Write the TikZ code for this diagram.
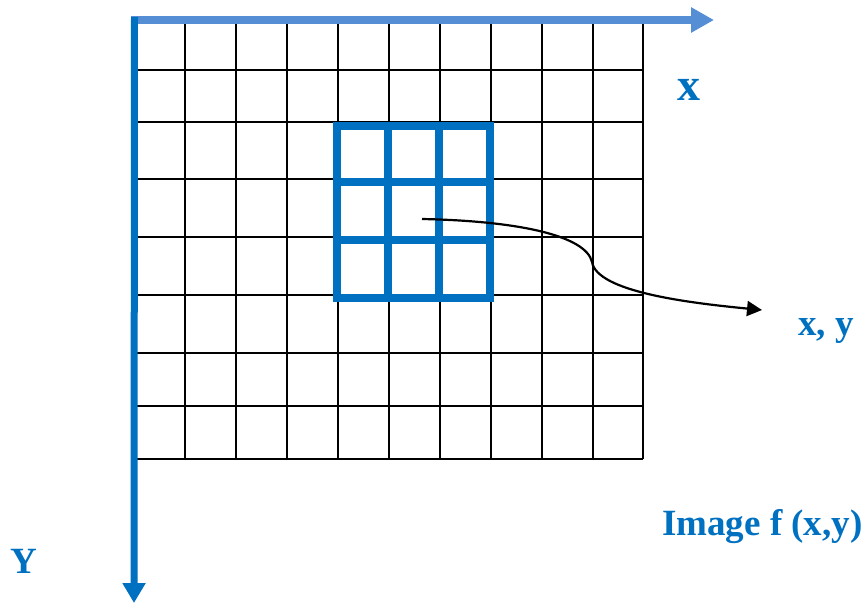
\documentclass[tikz,border=0pt]{standalone}
\usepackage{fontspec}
\setmainfont{Liberation Serif}
\usetikzlibrary{arrows.meta}
\definecolor{axisdark}{HTML}{0070C0}
\definecolor{axislight}{HTML}{558ED5}
\tikzset{
  gridline/.style={black, line width=2.4pt},
  bluegrid/.style={axisdark, line width=8pt},
  lbl/.style={text=axisdark, font=\bfseries, inner sep=0pt},
}
\begin{document}
\begin{tikzpicture}[x=1pt,y=-1pt]
\useasboundingbox (0,0) rectangle (864,603);
% black grid
\foreach \x in {134,185,236,287,338,389,440,491,542,593,643}
  \draw[gridline] (\x,18) -- (\x,459);
\foreach \y in {18,70,122,179,237,295,353,406,459}
  \draw[gridline] (134,\y) -- (643,\y);
% blue 3x3 window
\draw[bluegrid] (337,126) rectangle (490,298);
\foreach \x in {388,439}
  \draw[bluegrid] (\x,126) -- (\x,298);
\foreach \y in {182,240}
  \draw[bluegrid] (337,\y) -- (490,\y);
% axes
\coordinate (o) at (134,20);
\coordinate (xend) at (714,20);
\coordinate (yend) at (134,603);
\draw[axislight, line width=8pt, -{Triangle[length=23pt,width=24pt]}] (131,20) -- (xend);
\draw[axisdark, line width=7pt, -{Triangle[length=20pt,width=22pt]}] (134.5,17) -- (yend);
% labels
\node[lbl, font=\bfseries\fontsize{46}{46}\selectfont, anchor=base] (xl) at (689,100) {x};
\node[lbl, font=\bfseries\fontsize{37}{37}\selectfont, anchor=base west] (xy) at (798,335) {x, y};
\node[lbl, font=\bfseries\fontsize{37}{37}\selectfont, anchor=base west] (img) at (662,535) {Image f (x,y)};
\node[lbl, font=\bfseries\fontsize{37}{37}\selectfont, anchor=base west] (yl) at (10,573) {Y};
% curved pointer
\coordinate (p) at (422,219);
\coordinate (bend) at (592,262);
\coordinate (tip) at (762,310);
\draw[black, line width=2.2pt, -{Triangle[length=15pt,width=15pt]}]
  (p) .. controls (520,221) and (586,236) .. (bend)
      .. controls (597,292) and (690,303) .. (tip);
\end{tikzpicture}
\end{document}
